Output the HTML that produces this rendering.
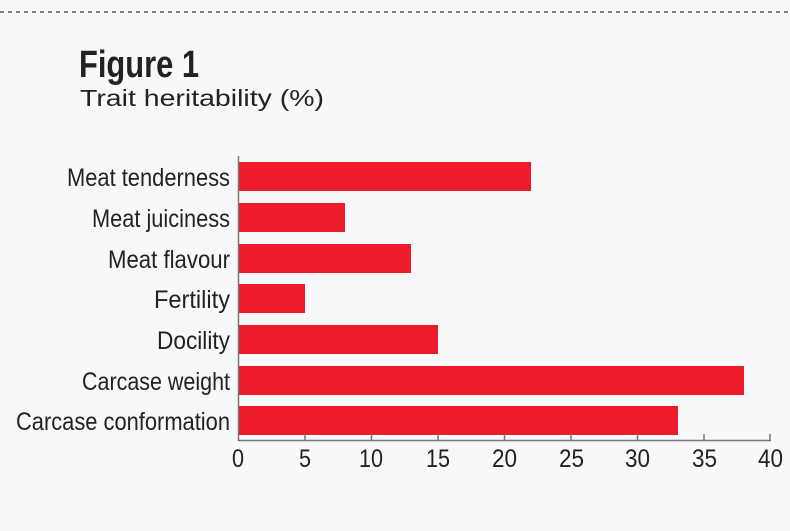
<!DOCTYPE html>
<html><head><style>
body{margin:0;width:790px;height:526px;background:#f7f8fa;overflow:hidden;font-family:"Liberation Sans",sans-serif;color:#222}
</style></head><body>
<svg width="790" height="526" xmlns="http://www.w3.org/2000/svg">
<line x1="0" y1="12" x2="790" y2="12" stroke="#555" stroke-width="1.5" stroke-dasharray="4,4"/>
<text x="79" y="77" font-family="Liberation Sans, sans-serif" font-weight="bold" font-size="38" fill="#222" textLength="120" lengthAdjust="spacingAndGlyphs">Figure 1</text>
<text x="80" y="106" font-family="Liberation Sans, sans-serif" font-size="23" fill="#222" textLength="244" lengthAdjust="spacingAndGlyphs">Trait heritability (%)</text>
<g fill="#ee1c2a">
<rect x="239" y="162" width="292" height="29"/>
<rect x="239" y="203" width="106" height="29"/>
<rect x="239" y="244" width="172" height="29"/>
<rect x="239" y="284" width="66" height="29"/>
<rect x="239" y="325" width="199" height="29"/>
<rect x="239" y="366" width="505" height="29"/>
<rect x="239" y="406" width="439" height="29"/>
</g>
<line x1="238.5" y1="156" x2="238.5" y2="441" stroke="#777" stroke-width="1.5"/>
<line x1="238" y1="440.5" x2="771" y2="440.5" stroke="#777" stroke-width="1.5"/>
<g stroke="#777" stroke-width="1.5">
<line x1="305" y1="434" x2="305" y2="441"/><line x1="371.5" y1="434" x2="371.5" y2="441"/>
<line x1="438" y1="434" x2="438" y2="441"/><line x1="504.5" y1="434" x2="504.5" y2="441"/>
<line x1="571" y1="434" x2="571" y2="441"/><line x1="637.5" y1="434" x2="637.5" y2="441"/>
<line x1="704" y1="434" x2="704" y2="441"/><line x1="770" y1="434" x2="770" y2="441"/>
</g>
<g font-family="Liberation Sans, sans-serif" font-size="25" fill="#222" lengthAdjust="spacingAndGlyphs">
<text x="232" y="467" textLength="12" lengthAdjust="spacingAndGlyphs">0</text>
<text x="299" y="467" textLength="12" lengthAdjust="spacingAndGlyphs">5</text>
<text x="359" y="467" textLength="24" lengthAdjust="spacingAndGlyphs">10</text>
<text x="426" y="467" textLength="24" lengthAdjust="spacingAndGlyphs">15</text>
<text x="492" y="467" textLength="25" lengthAdjust="spacingAndGlyphs">20</text>
<text x="559" y="467" textLength="25" lengthAdjust="spacingAndGlyphs">25</text>
<text x="625" y="467" textLength="25" lengthAdjust="spacingAndGlyphs">30</text>
<text x="692" y="467" textLength="25" lengthAdjust="spacingAndGlyphs">35</text>
<text x="758" y="467" textLength="25" lengthAdjust="spacingAndGlyphs">40</text>
</g>
<g font-family="Liberation Sans, sans-serif" font-size="25" fill="#222">
<text x="67" y="186" textLength="163" lengthAdjust="spacingAndGlyphs">Meat tenderness</text>
<text x="92" y="227" textLength="138" lengthAdjust="spacingAndGlyphs">Meat juiciness</text>
<text x="108" y="268" textLength="122" lengthAdjust="spacingAndGlyphs">Meat flavour</text>
<text x="154" y="308" textLength="76" lengthAdjust="spacingAndGlyphs">Fertility</text>
<text x="157" y="349" textLength="73" lengthAdjust="spacingAndGlyphs">Docility</text>
<text x="82" y="390" textLength="148" lengthAdjust="spacingAndGlyphs">Carcase weight</text>
<text x="16" y="430" textLength="214" lengthAdjust="spacingAndGlyphs">Carcase conformation</text>
</g>
</svg>
</body></html>
